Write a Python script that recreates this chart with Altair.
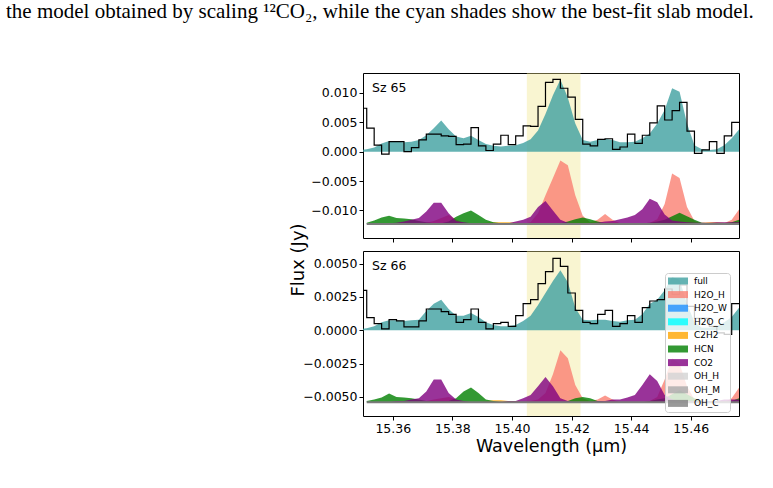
import altair as alt
import pandas as pd

# Common wavelength grid (micron) shared by the models and the binned spectra
WL = [15.34875, 15.35125, 15.35375, 15.35625, 15.35875, 15.36125, 15.36375, 15.36625, 15.36875, 15.37125,
      15.37375, 15.37625, 15.37875, 15.38125, 15.38375, 15.38625, 15.38875, 15.39125, 15.39375, 15.39625,
      15.39875, 15.40125, 15.40375, 15.40625, 15.40875, 15.41125, 15.41375, 15.41625, 15.41875, 15.42125,
      15.42375, 15.42625, 15.42875, 15.43125, 15.43375, 15.43625, 15.43875, 15.44125, 15.44375, 15.44625,
      15.44875, 15.45125, 15.45375, 15.45625, 15.45875, 15.46125, 15.46375, 15.46625, 15.46875, 15.47125,
      15.47375, 15.47625]

X_DOMAIN = [15.35, 15.4762]
X_TICKS = [15.36, 15.38, 15.40, 15.42, 15.44, 15.46]
BAND = [15.405, 15.423]

SPECIES = ["full", "H2O_H", "H2O_W", "H2O_C", "C2H2", "HCN", "CO2", "OH_H", "OH_M", "OH_C"]
COLORS = ["#3fa0a0", "#fa8072", "#1e90ff", "#00ffff", "#ffa500", "#008000", "#800080",
          "#d3d3d3", "#a9a9a9", "#808080"]
DRAWN = ["H2O_H", "C2H2", "HCN", "CO2"]

CAPTION = "the model obtained by scaling \u00b9\u00b2CO\u2082, while the cyan shades show the best-fit slab model."

# ---- Sz 65 -------------------------------------------------------------
SZ65_OBS = [0.0074, 0.0040, 0.0011, -0.0004, 0.0017, 0.0017, 0.0000, 0.0007, 0.0020, 0.0030,
            0.0030, 0.0027, 0.0026, 0.0012, 0.0013, 0.0041, 0.0010, 0.0002, 0.0013, 0.0028,
            0.0012, 0.0027, 0.0044, 0.0043, 0.0077, 0.0118, 0.0123, 0.0108, 0.0093, 0.0055,
            0.0013, 0.0010, 0.0021, 0.0022, 0.0004, 0.0008, 0.0030, 0.0014, 0.0028, 0.0049,
            0.0078, 0.0054, 0.0070, 0.0084, 0.0035, -0.0003, 0.0003, 0.0017, -0.0003, 0.0027,
            0.0050, 0.0050]
SZ65_FULL = [0.0003, 0.0004, 0.0007, 0.0014, 0.0018, 0.0017, 0.0016, 0.0017, 0.0020, 0.0028,
             0.0040, 0.0053, 0.0038, 0.0026, 0.0023, 0.0027, 0.0020, 0.0013, 0.0010, 0.0009,
             0.0010, 0.0011, 0.0015, 0.0021, 0.0036, 0.0064, 0.0096, 0.0123, 0.0092, 0.0048,
             0.0020, 0.0017, 0.0020, 0.0022, 0.0020, 0.0016, 0.0016, 0.0017, 0.0023, 0.0031,
             0.0048, 0.0071, 0.0108, 0.0102, 0.0048, 0.0011, 0.0004, 0.0003, 0.0004, 0.0011,
             0.0023, 0.0038]
# component spectra start at WL[1]
SZ65_H2O_H = [0, 0, 0, 0, 0, 0, 0, 0.0001, 0.0002, 0.0005,
              0.0010, 0.0015, 0.0008, 0.0001, 0, 0, 0, 0, 0, 0,
              0, 0, 0.0003, 0.0018, 0.0049, 0.0078, 0.0108, 0.0100, 0.0049, 0.0014,
              0.0003, 0.0007, 0.0017, 0.0007, 0.0001, 0, 0, 0.0001, 0.0002, 0.0008,
              0.0034, 0.0086, 0.0078, 0.0029, 0.0005, 0.0001, 0, 0, 0.0001, 0.0007, 0.0025]
SZ65_HCN = [0.0002, 0.0006, 0.0011, 0.0014, 0.0010, 0.0009, 0.0008, 0.0005, 0.0003, 0.0001,
            0.0001, 0.0004, 0.0012, 0.0018, 0.0023, 0.0015, 0.0007, 0.0003, 0.0001, 0,
            0, 0, 0, 0, 0, 0, 0.0001, 0.0004, 0.0008, 0.0011,
            0.0008, 0.0004, 0.0001, 0, 0, 0, 0, 0.0001, 0.0002, 0.0004,
            0.0007, 0.0013, 0.0019, 0.0013, 0.0007, 0.0002, 0.0001, 0, 0.0001, 0.0003, 0.0007]
SZ65_CO2 = [0, 0, 0.0001, 0.0001, 0.0002, 0.0004, 0.0007, 0.0010, 0.0021, 0.0036,
            0.0036, 0.0018, 0.0005, 0.0003, 0.0001, 0.0001, 0.0001, 0.0001, 0.0001, 0.0001,
            0.0004, 0.0007, 0.0012, 0.0029, 0.0039, 0.0023, 0.0007, 0.0002, 0.0001, 0.0001,
            0.0001, 0.0002, 0.0004, 0.0005, 0.0008, 0.0011, 0.0015, 0.0025, 0.0043, 0.0037,
            0.0016, 0.0006, 0.0004, 0.0003, 0.0002, 0.0002, 0.0002, 0.0003, 0.0003, 0.0003, 0.0003]
SZ65_C2H2 = [0, 0, 0, 0, 0, 0, 0, 0, 0.0001, 0.0001,
             0.0001, 0.0001, 0.0001, 0.0001, 0.0001, 0.0001, 0.0002, 0.0003, 0.0003, 0.0003,
             0.0002, 0.0001, 0, 0, 0, 0, 0, 0, 0, 0,
             0, 0, 0, 0, 0, 0, 0, 0, 0, 0,
             0, 0, 0, 0, 0.0001, 0.0002, 0.0003, 0.0003, 0.0002, 0.0002, 0.0002]

# ---- Sz 66 -------------------------------------------------------------
SZ66_OBS = [0.0030, 0.00095, 0.0005, 0.0001, 0.0008, 0.0007, 0.00025, 0.00025, 0.0007, 0.0016,
            0.0016, 0.0014, 0.0012, 0.0006, 0.0008, 0.0016, 0.0006, 0.0001, 0.0005, 0.0006,
            0.0003, 0.0011, 0.0020, 0.0023, 0.0035, 0.0044, 0.0054, 0.0048, 0.0028, 0.0015,
            0.0006, 0.0005, 0.0012, 0.0015, 0.0003, 0.0005, 0.0011, 0.0006, 0.0017, 0.0022,
            0.0023, 0.0031, 0.0027, 0.0034, 0.0018, 0.0009, 0.0009, 0.0003, -0.0002, -0.0003,
            0.0020, 0.0020]
SZ66_FULL = [0.0001, 0.00015, 0.0003, 0.0006, 0.00075, 0.00075, 0.0007, 0.00075, 0.0008, 0.00145,
             0.0020, 0.0023, 0.0016, 0.0011, 0.0011, 0.0013, 0.0010, 0.0006, 0.0004, 0.0003,
             0.0003, 0.0004, 0.0007, 0.0011, 0.0019, 0.0028, 0.0037, 0.0045, 0.0036, 0.0017,
             0.0008, 0.00075, 0.0008, 0.0008, 0.0007, 0.00065, 0.00075, 0.0008, 0.0012, 0.0020,
             0.0023, 0.0030, 0.0040, 0.0038, 0.0020, 0.0006, 0.0002, 0.0002, 0.0003, 0.0006,
             0.0010, 0.0017]
SZ66_H2O_H = [0, 0, 0, 0, 0, 0, 0, 0, 0.0001, 0.0002,
              0.0003, 0.0004, 0.0002, 0, 0, 0, 0, 0, 0, 0,
              0, 0, 0.0001, 0.0002, 0.0007, 0.0021, 0.0039, 0.0033, 0.0013, 0.0003,
              0.0001, 0.0002, 0.0005, 0.0002, 0, 0, 0, 0, 0.0001, 0.0004,
              0.0017, 0.0033, 0.0029, 0.0012, 0.0002, 0, 0, 0, 0, 0.0003, 0.0011]
SZ66_HCN = [0.0001, 0.0002, 0.00035, 0.00065, 0.0004, 0.00035, 0.0003, 0.0002, 0.0001, 0.0001,
            0.0001, 0.0001, 0.0003, 0.0008, 0.0011, 0.0007, 0.0002, 0.0001, 0, 0,
            0, 0, 0, 0, 0, 0, 0, 0.0001, 0.0003, 0.0004,
            0.0003, 0.0001, 0, 0, 0, 0, 0, 0, 0.0001, 0.0002,
            0.0003, 0.0006, 0.0009, 0.0006, 0.0003, 0.0001, 0, 0, 0, 0.0001, 0.0003]
SZ66_CO2 = [0, 0, 0, 0, 0.0001, 0.0001, 0.0002, 0.0003, 0.0008, 0.0017,
            0.0017, 0.0007, 0.0002, 0.0001, 0, 0, 0, 0, 0, 0.0001,
            0.0001, 0.0003, 0.00055, 0.0012, 0.0019, 0.0012, 0.0003, 0.0001, 0, 0,
            0, 0.0001, 0.0001, 0.0002, 0.0002, 0.00035, 0.00055, 0.0013, 0.0021, 0.0016,
            0.00055, 0.0002, 0.0001, 0.0001, 0.0001, 0.0001, 0.0001, 0.0001, 0.0002, 0.0002, 0.0002]
SZ66_C2H2 = [0, 0, 0, 0, 0, 0, 0, 0, 0, 0,
             0, 0, 0, 0, 0, 0, 0.0001, 0.00015, 0.00015, 0.0001,
             0.0001, 0, 0, 0, 0, 0, 0, 0, 0, 0,
             0, 0, 0, 0, 0, 0, 0, 0, 0, 0,
             0, 0, 0, 0, 0, 0.0001, 0.0001, 0.0001, 0.0001, 0.0001, 0]

W, H = 376, 165

LEGEND = alt.Legend(
    orient="none", legendX=302, legendY=22, direction="vertical", title=None,
    symbolType="M-1,-0.7H3V0.7H-1Z", symbolSize=100, symbolStrokeWidth=0, symbolOpacity=0.8,
    labelFont="DejaVu Sans", labelFontSize=9, labelColor="black", labelOffset=16, labelLimit=120,
    rowPadding=3.6, padding=3, fillColor="rgba(255,255,255,0.8)", strokeColor="#cccccc",
    cornerRadius=3,
)


def model_frame(full, comps, offset):
    rows = [{"wl": w, "lo": 0.0, "hi": v, "species": "full"} for w, v in zip(WL, full)]
    for name, vals in comps.items():
        rows += [{"wl": w, "lo": offset, "hi": offset + v, "species": name}
                 for w, v in zip(WL[1:], vals)]
    return pd.DataFrame(rows)


def panel(label, obs, full, comps, offset, ydomain, yticks, yfmt, bottom):
    xs = alt.Scale(domain=X_DOMAIN, nice=False, zero=False)
    ys = alt.Scale(domain=ydomain, nice=False, zero=False)
    xaxis = alt.Axis(values=X_TICKS, format=".2f", labels=bottom,
                     title="Wavelength (\u03bcm)" if bottom else None, titlePadding=3)
    yaxis = alt.Axis(values=yticks, format=yfmt, title=None)
    color = alt.Color("species:N", scale=alt.Scale(domain=SPECIES, range=COLORS),
                      legend=LEGEND if bottom else None)

    band = alt.Chart(pd.DataFrame({"x0": [BAND[0]], "x1": [BAND[1]]})).mark_rect(
        color="#f0e68c", opacity=0.4).encode(
        x=alt.X("x0:Q", scale=xs, axis=xaxis), x2="x1:Q", y=alt.value(0), y2=alt.value(H))
    layers = [band]

    model = model_frame(full, comps, offset)
    for sp in ["full"] + DRAWN:
        layers.append(
            alt.Chart(model).transform_filter(alt.datum.species == sp)
            .mark_area(opacity=0.8, clip=True)
            .encode(x=alt.X("wl:Q", scale=xs, axis=xaxis),
                    y=alt.Y("hi:Q", scale=ys, axis=yaxis), y2="lo:Q", color=color))

    # zero-level of the offset component spectra
    layers.append(
        alt.Chart(pd.DataFrame({"x0": [WL[1]], "x1": [WL[-1]], "y": [offset]}))
        .mark_rule(color="#7a7a7a", strokeWidth=2, clip=True)
        .encode(x=alt.X("x0:Q", scale=xs, axis=xaxis), x2="x1:Q",
                y=alt.Y("y:Q", scale=ys, axis=yaxis)))

    layers.append(
        alt.Chart(pd.DataFrame({"wl": WL, "flux": obs}))
        .mark_line(color="black", strokeWidth=1.2, interpolate="step-after", clip=True)
        .encode(x=alt.X("wl:Q", scale=xs, axis=xaxis), y=alt.Y("flux:Q", scale=ys, axis=yaxis)))

    layers.append(
        alt.Chart(pd.DataFrame({"t": [label]}))
        .mark_text(align="left", baseline="top", font="DejaVu Sans", fontSize=12.5, color="black")
        .encode(x=alt.value(9), y=alt.value(9), text="t:N"))

    if not bottom:
        layers.append(
            alt.Chart(pd.DataFrame({"t": [CAPTION]}))
            .mark_text(align="left", baseline="alphabetic", font="Liberation Serif",
                       fontSize=21, color="black")
            .encode(x=alt.value(-357), y=alt.value(-55), text="t:N"))
    else:
        layers.append(
            alt.Chart(pd.DataFrame({"t": ["Flux (Jy)"]}))
            .mark_text(align="center", baseline="middle", angle=270, font="DejaVu Sans",
                       fontSize=18, color="black")
            .encode(x=alt.value(-64), y=alt.value(9), text="t:N"))

    return alt.layer(*layers).properties(width=W, height=H)


top = panel("Sz 65", SZ65_OBS, SZ65_FULL,
            {"H2O_H": SZ65_H2O_H, "C2H2": SZ65_C2H2, "HCN": SZ65_HCN, "CO2": SZ65_CO2},
            -0.0123, [-0.0147, 0.0134], [-0.010, -0.005, 0.0, 0.005, 0.010], ".3f", False)
bottom = panel("Sz 66", SZ66_OBS, SZ66_FULL,
               {"H2O_H": SZ66_H2O_H, "C2H2": SZ66_C2H2, "HCN": SZ66_HCN, "CO2": SZ66_CO2},
               -0.0054, [-0.00643, 0.00595], [-0.005, -0.0025, 0.0, 0.0025, 0.005], ".4f", True)

chart = (
    alt.vconcat(top, bottom, spacing=13, bounds="flush")
    .resolve_scale(x="independent", y="independent", color="independent")
    .resolve_legend(color="independent")
    .configure_view(stroke="black", strokeWidth=1)
    .configure_axis(domain=False, grid=False, labelFont="DejaVu Sans", labelFontSize=12.5,
                    labelColor="black", tickColor="black", tickSize=4, tickWidth=1,
                    labelPadding=2, titleFont="DejaVu Sans", titleFontSize=17.5,
                    titleColor="black", titleFontWeight="normal")
    .properties(padding={"left": 5, "top": 0, "right": 5, "bottom": 5}, background="white")
)

chart.save("out.html", embed_options={"renderer": "svg", "actions": False})
